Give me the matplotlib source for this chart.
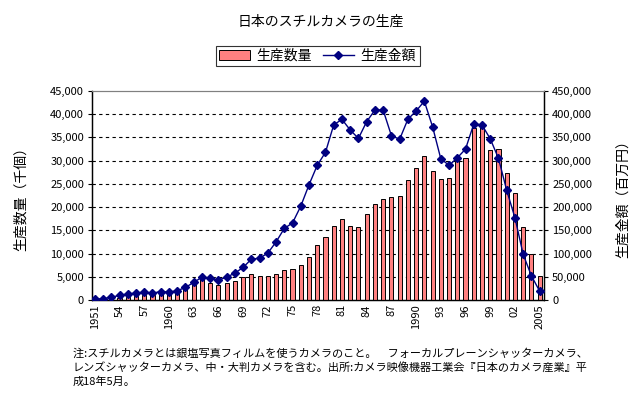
import matplotlib
matplotlib.use("Agg")
import matplotlib.pyplot as plt
import numpy as np
from matplotlib.patches import Patch
from matplotlib.lines import Line2D

plt.rcParams['font.family'] = ['Noto Sans CJK JP', 'DejaVu Sans']

# data
years = list(range(1951, 2006))
quantity = [100, 150, 250, 400, 600, 900, 1100, 1000, 1300, 1500,
            1700, 2500, 3400, 4500, 3600, 3200, 3600, 4100, 4900, 5700,
            5200, 5200, 5700, 6500, 6700, 7500, 9300, 11900, 13500, 15900,
            17400, 15900, 15700, 18500, 20700, 21800, 22100, 22400, 25800, 28400,
            31000, 27800, 26000, 26200, 30100, 30600, 37100, 37500, 32400, 32600,
            27300, 23000, 15700, 9800, 5100]
value = [1500, 3000, 6000, 10000, 13000, 15000, 17000, 15000, 18000, 17000,
         20000, 27000, 38000, 49000, 47000, 43000, 49000, 58000, 70000, 88000,
         90000, 101000, 125000, 154000, 166000, 202000, 248000, 290000, 318000, 377000,
         389000, 366000, 348000, 384000, 409000, 409000, 354000, 346000, 389000, 407000,
         428000, 373000, 304000, 290000, 306000, 325000, 379000, 377000, 347000, 305000,
         236000, 177000, 98000, 52000, 19000]
tick_years = list(range(1951, 2006, 3))
tick_labels = ["1951", "54", "57", "1960", "63", "66", "69", "72", "75", "78",
               "81", "84", "87", "1990", "93", "96", "99", "02", "2005"]

title = "日本のスチルカメラの生産"
note = ("注:スチルカメラとは銀塩写真フィルムを使うカメラのこと。　フォーカルプレーンシャッターカメラ、\n"
        "レンズシャッターカメラ、中・大判カメラを含む。出所:カメラ映像機器工業会『日本のカメラ産業』平\n"
        "成18年5月。")

fig = plt.figure(figsize=(6.39, 3.97), dpi=100)
ax = fig.add_axes([0.1445, 0.2443, 0.7065, 0.5265])
ax2 = ax.twinx()

ax.bar(years, quantity, width=0.5, color="#FF8080", edgecolor="black", linewidth=0.7, zorder=3)
ax2.plot(years, value, color="#000080", linewidth=1, marker="D", markersize=4, zorder=4)

ax.set_xlim(1950.7, 2005.5)
ax.set_ylim(0, 45000)
ax2.set_ylim(0, 450000)
ax.set_yticks(np.arange(0, 45001, 5000))
ax2.set_yticks(np.arange(0, 450001, 50000))
ax.set_yticklabels([f"{v:,}" for v in range(0, 45001, 5000)], fontsize=8)
ax2.set_yticklabels([f"{v:,}" for v in range(0, 450001, 50000)], fontsize=8)

ax.set_xticks(tick_years)
ax.set_xticklabels(tick_labels, rotation=90, fontsize=8)
ax.set_xticks(years, minor=True)
ax.tick_params(axis="x", which="both", direction="in", length=3, width=0.8, pad=3)
ax.tick_params(axis="y", length=3, width=0.8, pad=3)
ax2.tick_params(axis="y", length=3, width=0.8, pad=3)

for v in range(5000, 45000, 5000):
    ax.axhline(v, color="black", linestyle=(0, (3, 3)), linewidth=0.8, zorder=1)

for a in (ax, ax2):
    a.spines["top"].set_color("#808080")
    a.spines["left"].set_linewidth(0.9)
    a.spines["right"].set_linewidth(0.9)
    a.spines["bottom"].set_linewidth(0.9)

ax.set_ylabel("生産数量（千個）", fontsize=10, labelpad=16)
ax2.set_ylabel("生産金額（百万円）", fontsize=10, rotation=90, labelpad=17)

fig.text(0.502, 0.945, title, ha="center", va="center", fontsize=10)

handles = [Patch(facecolor="#FF8080", edgecolor="black", linewidth=0.7),
           Line2D([0], [0], color="#000080", linewidth=1, marker="D", markersize=4)]
leg = fig.legend(handles, ["生産数量", "生産金額"], loc="center", bbox_to_anchor=(0.497, 0.859),
                 ncol=2, fontsize=10, frameon=True, fancybox=False, edgecolor="black",
                 borderpad=0.25, handlelength=2.2, columnspacing=0.8, handletextpad=0.5)
leg.get_frame().set_linewidth(0.8)

fig.text(0.114, 0.074, note, ha="left", va="center", fontsize=8, linespacing=1.35)

fig.savefig("out.png", dpi=100)
